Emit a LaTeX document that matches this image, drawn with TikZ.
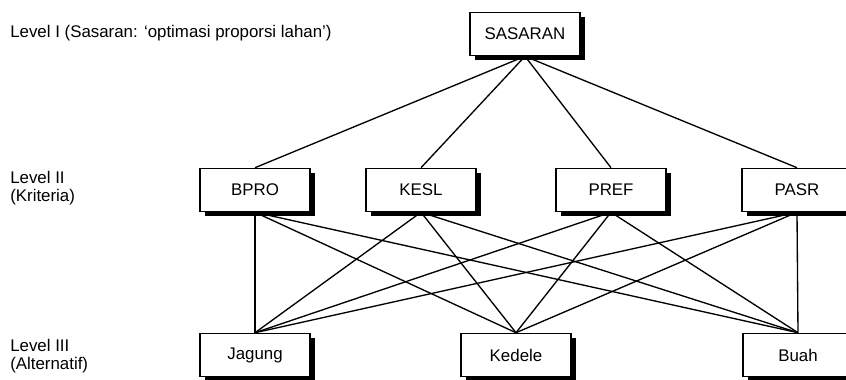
\documentclass[tikz,border=0pt]{standalone}
\usepackage{fontspec}
\setmainfont{Liberation Sans}
\usetikzlibrary{shadows}

\begin{document}
\begin{tikzpicture}[
    kotak/.style={draw, line width=1.1pt, fill=white, minimum width=2.75cm,
      minimum height=1.075cm, inner sep=0pt,
      drop shadow={shadow xshift=0.125cm, shadow yshift=-0.125cm, fill=black, opacity=1}},
    keterangan/.style={anchor=west, align=left, inner sep=0pt},
    garis/.style={line width=0.95pt}
  ]
  \fontsize{12}{13}\selectfont
  % picture frame
  \clip (0,0) rectangle (21.15,9.5);

  % level labels
  \node[keterangan] (ketI) at (0.25, 8.675) {Level I (Sasaran: `optimasi proporsi lahan')};
  \node[keterangan] (ketII) at (0.25, 4.8) {Level II\\(Kriteria)};
  \node[keterangan] (ketIII) at (0.25, 0.6) {Level III\\(Alternatif)};

  % goal
  \node[kotak] (sasaran) at (13.125, 8.65) {SASARAN};

  % criteria
  \node[kotak] (bpro) at (6.375, 4.75) {BPRO};
  \node[kotak] (kesl) at (10.525, 4.75) {KESL};
  \node[kotak] (pref) at (15.275, 4.75) {PREF};
  \node[kotak] (pasr) at (19.925, 4.75) {PASR};

  % alternatives
  \node[kotak] (jagung) at (6.375, 0.625) {Jagung};
  \node[kotak] (kedele) at (12.9, 0.625) {Kedele};
  \node[kotak] (buah) at (19.95, 0.625) {Buah};

  % connectors
  \foreach \k in {bpro, kesl, pref, pasr} {
    \draw[garis] (sasaran.south) -- (\k.north);
    \foreach \a in {jagung, kedele, buah}
      \draw[garis] (\k.south) -- (\a.north);
  }
\end{tikzpicture}
\end{document}
